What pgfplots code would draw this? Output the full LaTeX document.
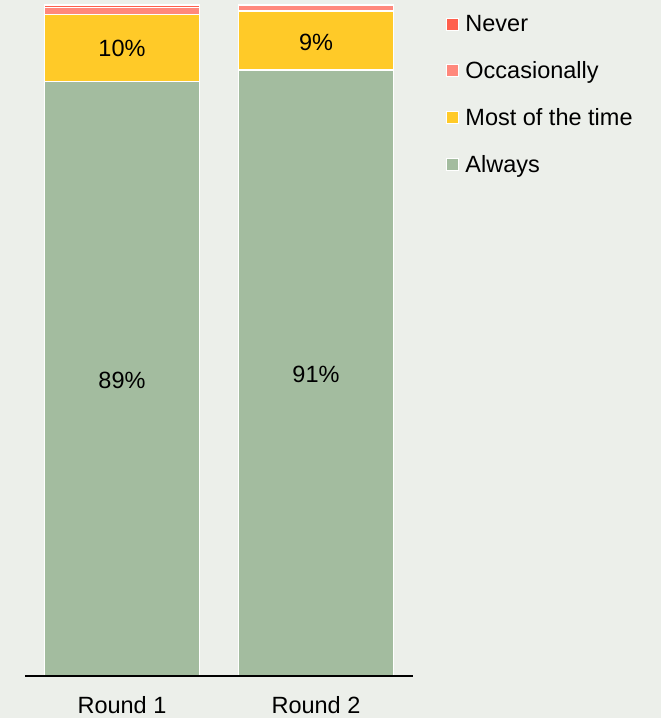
\documentclass[border=0pt]{standalone}
\usepackage{pgfplots}
\pgfplotsset{compat=1.18}
\usepackage{fontspec}
\setmainfont{Liberation Sans}
\definecolor{bg}{HTML}{ECEFEA}
\definecolor{always}{HTML}{A3BC9F}
\definecolor{most}{HTML}{FFCA28}
\definecolor{occ}{HTML}{FF887C}
\definecolor{never}{HTML}{FF5F4C}
\begin{document}
\begin{tikzpicture}[x=1pt,y=1pt]
\fill[bg] (0,0) rectangle (661,718);
\begin{axis}[
  at={(25pt,42pt)}, anchor=south west,
  scale only axis, width=388pt, height=671pt,
  xmin=-0.5, xmax=1.5, ymin=0, ymax=100,
  ybar stacked, bar width=0.8,
  axis lines=none,
  every axis plot/.append style={draw=white, line width=1.5pt},
  reverse legend,
  legend style={at={(rel axis cs:1.085,0.988)}, anchor=north west, draw=none, fill=none,
    font=\fontsize{23.5}{28}\selectfont, row sep=24.5pt, cells={anchor=west},
    inner sep=0pt},
  legend image code/.code={\draw[#1, draw=white, line width=1pt] (-2pt,-6pt) rectangle (10pt,6pt);
    \path (14pt,0pt);},
  clip=false,
]
\addplot[fill=always] coordinates {(0,88.6) (1,90.3)};
\addplot[fill=most] coordinates {(0,10.0) (1,8.8)};
\addplot[fill=occ] coordinates {(0,1.0) (1,0.9)};
\addplot[fill=never] coordinates {(0,0.4) (1,0)};
\legend{Always, Most of the time, Occasionally, Never}
\end{axis}
\begin{axis}[
  at={(25pt,42pt)}, anchor=south west,
  scale only axis, width=388pt, height=671pt,
  xmin=-0.5, xmax=1.5, ymin=0, ymax=100,
  axis x line=bottom, axis y line=none,
  x axis line style={black, line width=1.5pt, -},
  xtick={0,1}, xticklabels={Round 1, Round 2},
  major tick length=0pt,
  xticklabel style={font=\fontsize{23.5}{28}\selectfont, yshift=-17pt},
  ytick=\empty,
  clip=false,
]
\addplot[draw=none, mark=none, nodes near coords, point meta=explicit symbolic,
  nodes near coords align=center,
  every node near coord/.append style={font=\fontsize{23.5}{28}\selectfont, text=black}]
  coordinates {(0,44.0) [89\%] (0,93.6) [10\%] (1,44.9) [91\%] (1,94.4) [9\%]};
\end{axis}
\end{tikzpicture}
\end{document}
